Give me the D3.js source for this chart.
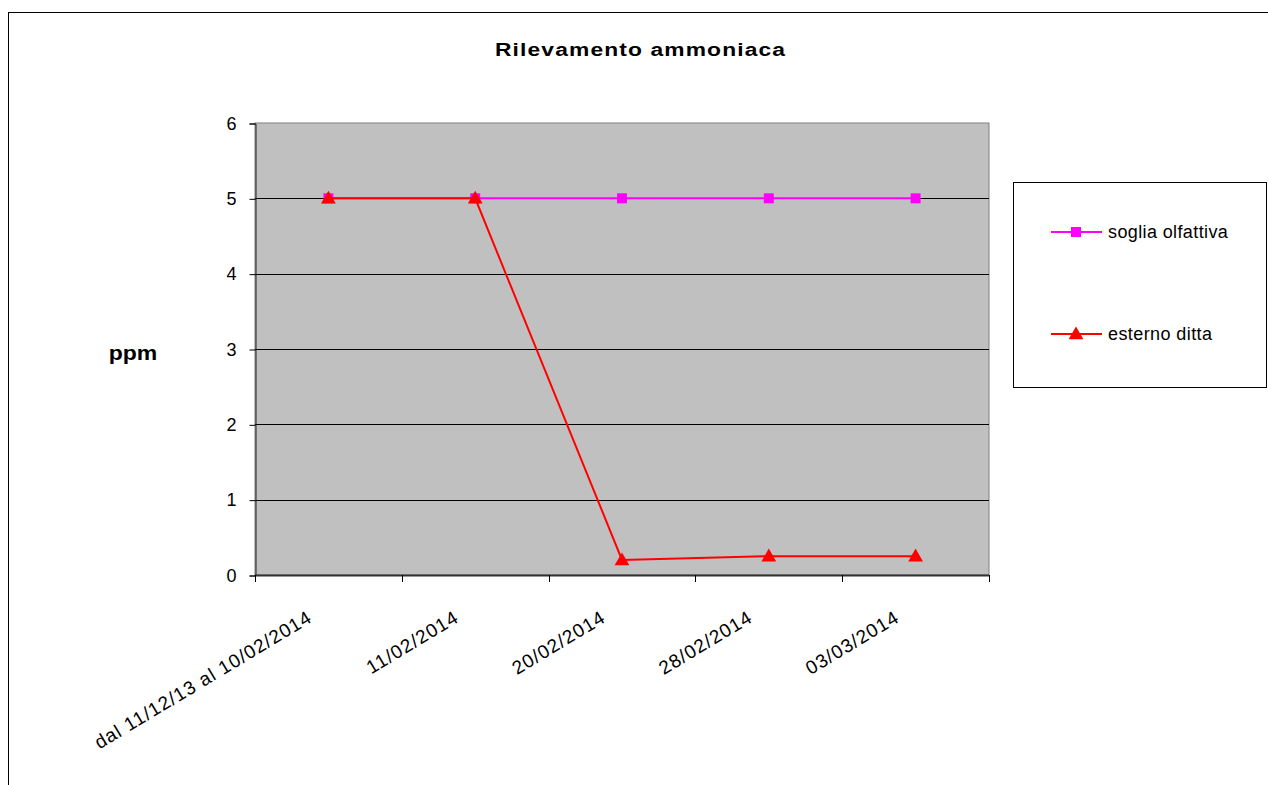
<!DOCTYPE html>
<html><head><meta charset="utf-8">
<script src="https://cdn.jsdelivr.net/npm/d3@7"></script>
<style>
html,body{margin:0;padding:0;background:#fff;}
svg{display:block;font-family:"Liberation Sans",Arial,sans-serif;}
</style></head>
<body>
<svg id="chart" width="1268" height="785"></svg>
<script>
const categories = ["dal 11/12/13 al 10/02/2014","11/02/2014","20/02/2014","28/02/2014","03/03/2014"];
const sogliaOlfattiva = [5,5,5,5,5];
const esternoDitta = [5,5,0.2,0.25,0.25];
const yTicks = [0,1,2,3,4,5,6];
const seriesNames = ["soglia olfattiva","esterno ditta"];
const titleText = "Rilevamento ammoniaca";
const yTitle = "ppm";

const svg = d3.select("#chart");
svg.append("rect").attr("x",8.5).attr("y",12.5).attr("width",1300).attr("height",900)
  .attr("fill","#fff").attr("stroke","#000").attr("stroke-width",1);

const L=255, R=989, T=123, B=575;
const x = d3.scaleBand().domain(categories).range([L,R]).padding(0);
const y = d3.scaleLinear().domain([0,6]).range([B,T]);

svg.append("rect").attr("x",L).attr("y",T).attr("width",R-L).attr("height",B-T)
  .attr("fill","#C0C0C0").attr("stroke","#808080").attr("stroke-width",1);

svg.append("g").selectAll("line").data(yTicks.filter(d=>d>0 && d<6)).join("line")
  .attr("x1",L).attr("x2",R).attr("y1",d=>Math.round(y(d))+0.5).attr("y2",d=>Math.round(y(d))+0.5)
  .attr("stroke","#000").attr("stroke-width",1);

function stretch(sel, f){
  sel.each(function(){ const w=this.getComputedTextLength(); d3.select(this).attr("textLength",w*f).attr("lengthAdjust","spacing"); });
}

const yAxis = d3.axisLeft(y).tickValues(yTicks).tickSize(6).tickPadding(13).tickFormat(d3.format("d"));
const gy = svg.append("g").attr("transform",`translate(${L+0.5},0.5)`).call(yAxis);
gy.select(".domain").attr("stroke","#222");
gy.selectAll(".tick line").attr("stroke","#000");
gy.selectAll(".tick text").attr("font-size",18).attr("fill","#000").attr("font-family","Liberation Sans, Arial, sans-serif");

const boundaries = categories.map(c=>x(c)).concat([R]);
const gx = svg.append("g");
gx.append("line").attr("x1",L).attr("x2",R).attr("y1",B+0.5).attr("y2",B+0.5).attr("stroke","#333").attr("stroke-width",2);
gx.selectAll("line.tk").data(boundaries).join("line").attr("class","tk")
  .attr("x1",d=>Math.round(d)+0.5).attr("x2",d=>Math.round(d)+0.5).attr("y1",B).attr("y2",B+7).attr("stroke","#000");
gx.selectAll("text").data(categories).join("text")
  .attr("transform",d=>`translate(${x(d)+x.bandwidth()/2-15},${B+46}) rotate(-31)`)
  .attr("text-anchor","end").attr("font-size",19).attr("fill","#000")
  .attr("letter-spacing","1px").text(d=>d);

svg.append("text").attr("transform","translate(640,56) scale(1.2,1)").attr("text-anchor","middle")
  .attr("font-size",19).attr("font-weight","bold").text(titleText)
  .each(function(){ d3.select(this).attr("textLength",290/1.2).attr("lengthAdjust","spacing"); });
svg.append("text").attr("transform","translate(133,360) scale(1.15,1)").attr("text-anchor","middle")
  .attr("font-size",20).attr("font-weight","bold").text(yTitle);

const cx = d=>x(d)+x.bandwidth()/2;
const line = d3.line().x((d,i)=>cx(categories[i])).y(d=>y(d));
const colors = ["#FF00FF","#FF0000"];
const tri = d3.symbol().type(d3.symbolTriangle).size(95);

svg.append("path").datum(sogliaOlfattiva).attr("d",line).attr("fill","none").attr("stroke",colors[0]).attr("stroke-width",2);
svg.append("g").selectAll("rect").data(sogliaOlfattiva).join("rect")
  .attr("x",(d,i)=>cx(categories[i])-5).attr("y",d=>y(d)-5).attr("width",10).attr("height",10).attr("fill",colors[0]);
svg.append("path").datum(esternoDitta).attr("d",line).attr("fill","none").attr("stroke",colors[1]).attr("stroke-width",2);
svg.append("g").selectAll("path").data(esternoDitta).join("path")
  .attr("d",tri).attr("transform",(d,i)=>`translate(${cx(categories[i])},${y(d)+1})`).attr("fill",colors[1]);

svg.append("rect").attr("x",1013.5).attr("y",182.5).attr("width",253).attr("height",205)
  .attr("fill","#fff").attr("stroke","#000");
const legY=[232,334];
seriesNames.forEach((n,i)=>{
  svg.append("line").attr("x1",1051).attr("x2",1102).attr("y1",legY[i]).attr("y2",legY[i]).attr("stroke",colors[i]).attr("stroke-width",2);
  if(i===0) svg.append("rect").attr("x",1071).attr("y",legY[i]-5).attr("width",10).attr("height",10).attr("fill",colors[i]);
  else svg.append("path").attr("d",tri).attr("transform",`translate(1076,${legY[i]+1})`).attr("fill",colors[i]);
  svg.append("text").attr("x",1108).attr("y",legY[i]+6).attr("font-size",18).text(n).call(stretch,1.05);
});
</script>
</body></html>
